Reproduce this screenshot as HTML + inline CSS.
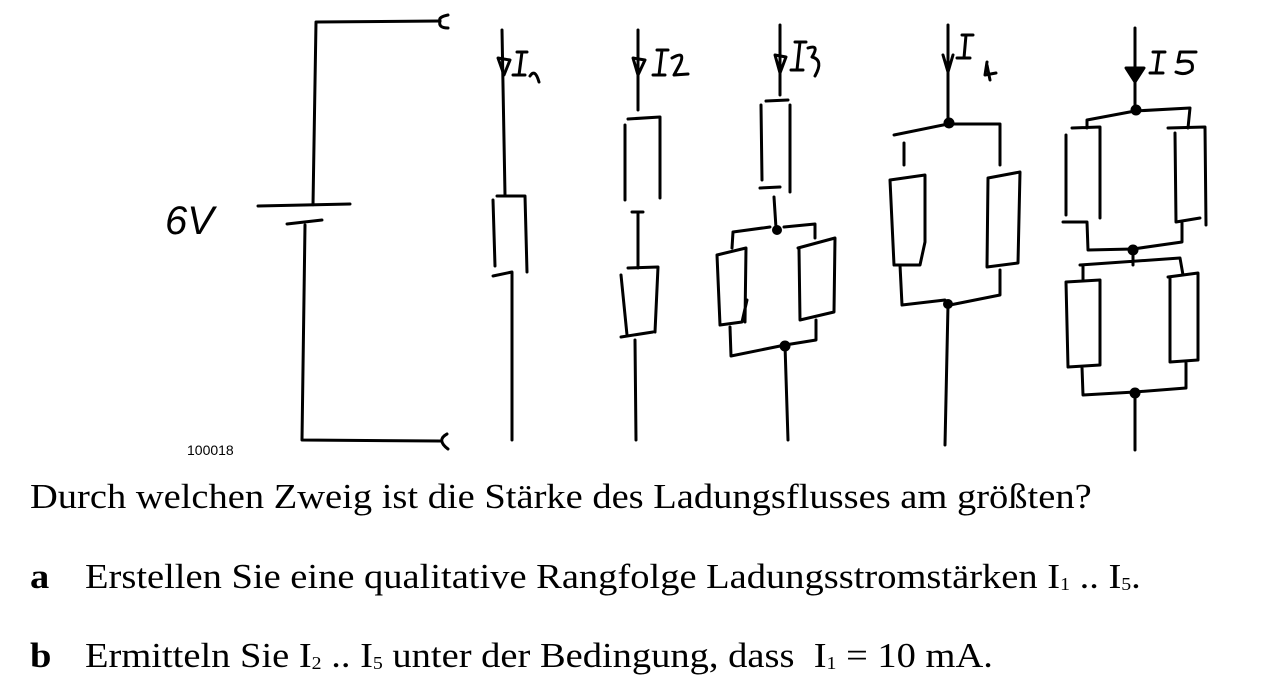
<!DOCTYPE html>
<html><head><meta charset="utf-8"><style>
html,body{margin:0;padding:0;background:#fff;}
body{width:1263px;height:696px;position:relative;overflow:hidden;font-family:"Liberation Serif",serif;}
.t{position:absolute;font-size:35px;white-space:nowrap;line-height:1;transform:scaleX(1.1);transform-origin:0 0;}
sub{font-size:18px;vertical-align:-2px;}
</style></head><body>
<svg width="1263" height="470" style="position:absolute;left:0;top:0" fill="none" stroke="#000" stroke-width="3" stroke-linecap="round" stroke-linejoin="round">
<!-- battery -->
<path d="M316,22 L440,21 M316,22 L313,205 M258,206 L350,204 M287,224 L322,220 M305,225 L302,440 L440,441"/>
<path d="M448,15 Q438,17 440,21 Q438,28 448,28"/>
<path d="M447,434 Q436,440 448,449"/>
<text x="165" y="234" font-family="Liberation Sans,sans-serif" font-size="40" fill="#000" stroke="none" font-style="italic">6V</text>
<text x="187" y="455" font-family="Liberation Sans,sans-serif" font-size="14" fill="#000" stroke="none">100018</text>
<!-- branch 1 -->
<path d="M502,30 L505,195 M493,200 L495,266 M497,196 L525,196 L527,272 M493,276 L512,272 L512,440"/>
<path d="M498,58 L504,75 L510,60 Z"/>
<path d="M517,52 L527,52 M522,52 L519,75 M513,75 L525,75 M530,76 Q535,68 539,82"/>
<!-- branch 2 -->
<path d="M638,30 L638,110 M625,125 L625,200 M628,119 L660,117 L660,198 M632,212 L643,212 M638,212 L638,268 M621,275 L627,335 M628,268 L658,267 L655,332 M621,337 L653,332 M635,340 L636,440"/>
<path d="M633,58 L638,75 L645,60 Z"/>
<path d="M657,50 L668,50 M662,50 L659,75 M653,75 L665,75 M672,58 Q686,50 680,64 L674,75 L688,74"/>
<!-- branch 3 -->
<path d="M780,25 L780,95 M761,105 L762,180 M766,101 L788,100 M790,105 L790,192 M760,188 L780,187 M774,197 L776,228 M733,232 L770,227 M784,227 L815,224 L815,238 M733,232 L732,248 M717,255 L720,325 L742,322 L747,300 M717,255 L746,248 L745,322 M730,327 L731,356 L785,345 L816,340 L816,320 M798,248 L835,238 L834,312 L800,320 L799,249 M785,345 L788,440"/>
<circle cx="777" cy="230" r="3.5" fill="#000"/><circle cx="785" cy="346" r="4" fill="#000"/>
<path d="M775,55 L780,73 L786,57 Z"/>
<path d="M795,42 L806,42 M800,42 L797,70 M791,70 L803,70 M808,48 Q820,44 812,57 Q824,60 815,76"/>
<!-- branch 4 -->
<path d="M948,25 L948,120 M894,135 L948,124 L1000,124 L1000,165 M904,143 L904,165 M890,180 L925,175 L925,242 L920,265 L894,265 L890,180 M988,178 L1020,172 L1018,263 L987,267 L988,178 M900,265 L902,305 L945,300 L950,305 L1000,295 L1000,270 M948,305 L945,445"/>
<circle cx="949" cy="123" r="4" fill="#000"/><circle cx="948" cy="304" r="3.5" fill="#000"/>
<path d="M943,55 L948,72 L953,55"/>
<path d="M962,35 L973,35 M966,35 L964,58 M957,58 L970,58 M987,65 L990,80 M987,62 L985,75 L996,73"/>
<!-- branch 5 -->
<path d="M1135,28 L1135,110 M1087,120 L1135,111 L1190,108 L1188,128 M1087,120 L1087,128 M1066,135 L1066,215 M1072,128 L1100,127 L1100,218 M1168,128 L1205,127 L1206,225 M1175,133 L1176,222 L1200,218 M1063,222 L1087,222 L1088,250 L1133,249 L1182,242 L1182,223 M1133,247 L1133,265 M1080,265 L1180,258 L1183,275 M1083,265 L1083,280 M1066,282 L1100,280 L1100,365 L1068,367 L1066,282 M1168,277 L1198,273 L1198,360 L1170,362 L1170,277 M1082,367 L1083,395 L1135,392 L1186,388 L1186,362 M1135,395 L1135,450"/>
<circle cx="1136" cy="110" r="4" fill="#000"/><circle cx="1133" cy="250" r="4" fill="#000"/><circle cx="1135" cy="393" r="4" fill="#000"/>
<path d="M1126,68 L1135,82 L1144,68 Z" fill="#000"/>
<path d="M1153,52 L1165,52 M1159,52 L1156,73 M1150,73 L1163,73 M1196,52 L1180,52 L1178,62 Q1195,58 1192,70 Q1185,76 1176,72"/>
</svg>
<div class="t" style="left:30px;top:479px;">Durch welchen Zweig ist die Stärke des Ladungsflusses am größten?</div>
<div class="t" style="left:30px;top:559px;font-weight:bold;">a</div>
<div class="t" style="left:85px;top:559px;">Erstellen Sie eine qualitative Rangfolge Ladungsstromstärken I<sub>1</sub> .. I<sub>5</sub>.</div>
<div class="t" style="left:30px;top:638px;font-weight:bold;">b</div>
<div class="t" style="left:85px;top:638px;">Ermitteln Sie I<sub>2</sub> .. I<sub>5</sub> unter der Bedingung, dass &nbsp;I<sub>1</sub> = 10 mA.</div>
</body></html>
